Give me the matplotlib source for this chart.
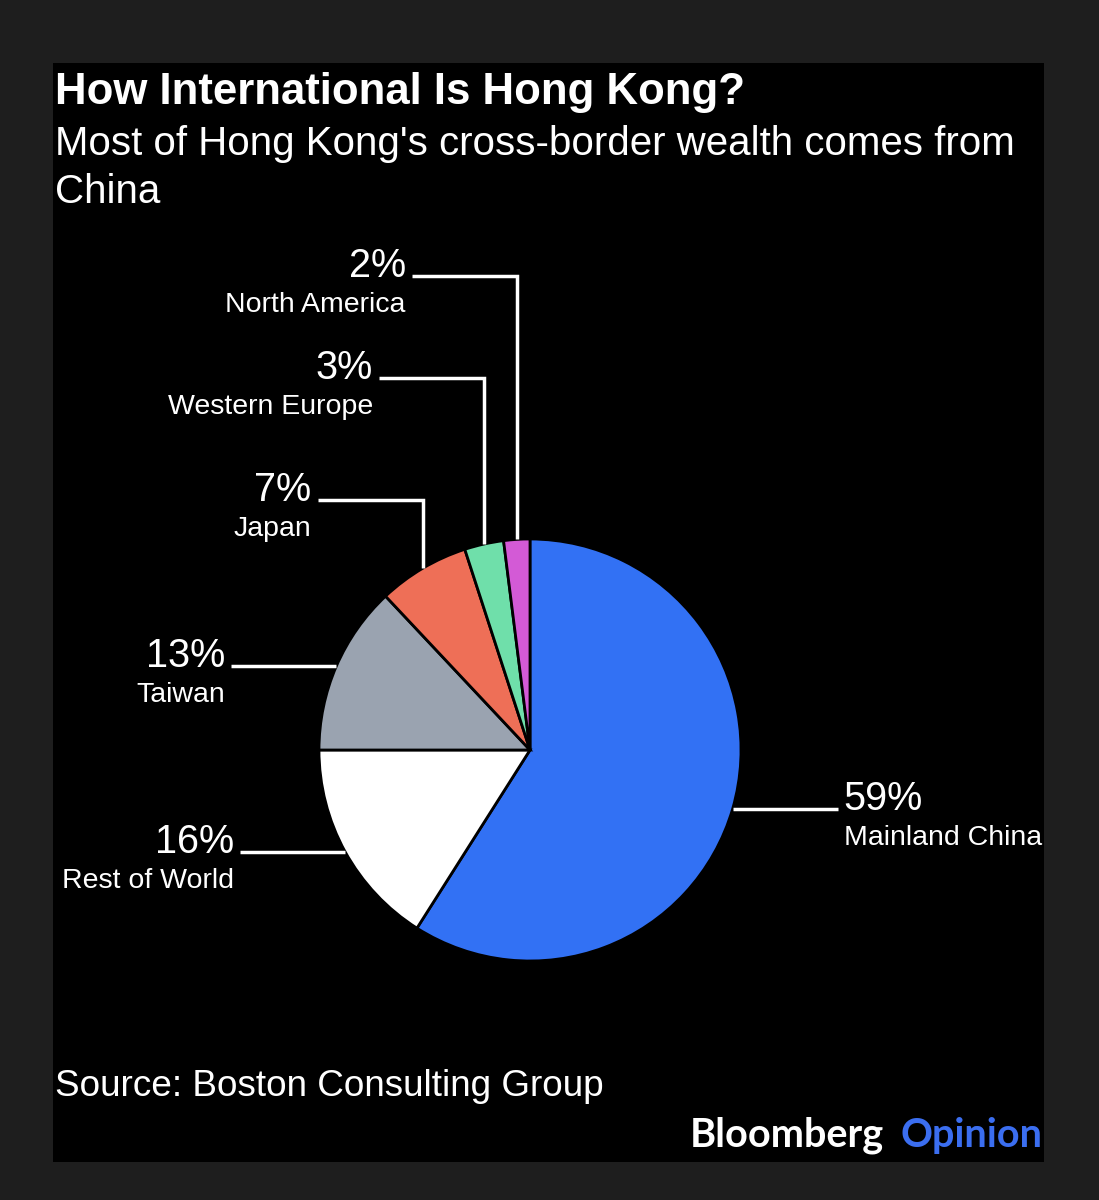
import numpy as np
import matplotlib
matplotlib.use('Agg')
import matplotlib.pyplot as plt
from matplotlib.patches import Rectangle

# data
regions = ['Mainland China', 'Rest of World', 'Taiwan', 'Japan',
           'Western Europe', 'North America']
shares = [59, 16, 13, 7, 3, 2]
colors = ['#3271f4', '#ffffff', '#9aa3b0', '#ee6f57', '#6fdfaa', '#d35ad6']

W, H = 1099, 1200
plt.rcParams['font.family'] = ['Liberation Sans', 'DejaVu Sans']

fig = plt.figure(figsize=(W / 100, H / 100), dpi=100, facecolor='#1e1e1e')
ax = fig.add_axes([0, 0, 1, 1])


def Y(y):
    # pixel row (from top) -> data y
    return H - y


# black panel
ax.add_patch(Rectangle((53, Y(1162)), 991, 1099, facecolor='black',
                       edgecolor='none', zorder=0))

cx, cy, r = 530, Y(750), 211
wedges, _ = ax.pie(shares, colors=colors, startangle=90, counterclock=False,
                   center=(cx, cy), radius=r, frame=True,
                   wedgeprops=dict(edgecolor='black', linewidth=2))
ax.set_xlim(0, W)
ax.set_ylim(0, H)
ax.set_aspect('equal')
ax.axis('off')

lw = 2.5
seg = 105
pct_fs, lab_fs = 28.5, 20.5
# height of the elbow for the small slices at the top (pixel rows)
elbow_rows = {'Japan': 500, 'Western Europe': 378, 'North America': 276}

for w, name, val in zip(wedges, regions, shares):
    mid = np.deg2rad((w.theta1 + w.theta2) / 2)
    ex, ey = cx + r * np.cos(mid), cy + r * np.sin(mid)
    pct = f'{val}%'
    if name == 'Mainland China':
        x1 = ex + seg
        ax.plot([ex, x1], [ey, ey], color='white', lw=lw, solid_capstyle='butt')
        ax.text(x1 + 6, ey - 1, pct, color='white', fontsize=pct_fs,
                ha='left', va='baseline')
        ax.text(x1 + 6, ey - 36, name, color='white', fontsize=lab_fs,
                ha='left', va='baseline')
        continue
    if name in elbow_rows:
        ly = Y(elbow_rows[name])
        x1 = ex - seg
        ax.plot([ex, ex, x1], [ey, ly, ly], color='white', lw=lw,
                solid_capstyle='butt', solid_joinstyle='miter')
    else:
        ly = ey
        x1 = ex - seg
        ax.plot([ex, x1], [ly, ly], color='white', lw=lw, solid_capstyle='butt')
    ax.text(x1 - 6, ly - 1, pct, color='white', fontsize=pct_fs,
            ha='right', va='baseline')
    ax.text(x1 - 6, ly - 36, name, color='white', fontsize=lab_fs,
            ha='right', va='baseline')

# titles
ax.text(55, Y(104), 'How International Is Hong Kong?', color='white',
        fontsize=31.5, fontweight='bold', ha='left', va='baseline')
ax.text(55, Y(155), "Most of Hong Kong's cross-border wealth comes from",
        color='white', fontsize=29, ha='left', va='baseline')
ax.text(55, Y(203), 'China', color='white', fontsize=29,
        ha='left', va='baseline')

ax.text(55, Y(1096), 'Source: Boston Consulting Group', color='white',
        fontsize=26.6, ha='left', va='baseline')

ax.text(690, Y(1147), 'Bloomberg', color='white', fontsize=28.5,
        fontweight='bold', family=['Lato', 'DejaVu Sans'],
        ha='left', va='baseline')
ax.text(1042, Y(1147), 'Opinion', color='#3b6ef0', fontsize=28.5,
        fontweight='bold', family=['Lato', 'DejaVu Sans'],
        ha='right', va='baseline')

fig.savefig('out.png', dpi=100, facecolor=fig.get_facecolor())
